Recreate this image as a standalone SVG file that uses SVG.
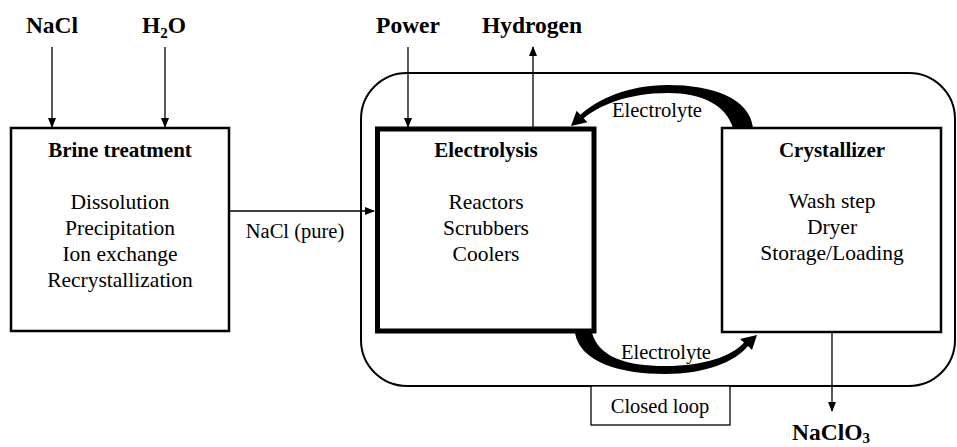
<svg xmlns="http://www.w3.org/2000/svg" width="957" height="447" viewBox="0 0 957 447" font-family="'Liberation Serif', 'Times New Roman', 'DejaVu Serif', serif">
<defs>
<marker id="ah" markerWidth="10" markerHeight="10" refX="9" refY="5" orient="auto" markerUnits="userSpaceOnUse">
<path d="M0,1 L10,5 L0,9 Z" fill="#000"/>
</marker>
<style>
text{font-family:'Liberation Serif','Times New Roman','DejaVu Serif',serif;fill:#000;}
.lbl{font-size:23.5px;font-weight:bold;text-anchor:middle;}
.ttl{font-size:21px;font-weight:bold;text-anchor:middle;}
.body{font-size:21.5px;text-anchor:middle;}
.small{font-size:20.5px;text-anchor:middle;}
.box{fill:#fff;stroke:#000;stroke-width:2.5;}
.thin{fill:none;stroke:#000;stroke-width:1.3;}
.arr{fill:#000;stroke:none;}
</style>
</defs>
<rect width="957" height="447" fill="#fff"/>
<g id="container">
<rect x="361" y="73" width="594" height="313" rx="46" ry="46" fill="none" stroke="#000" stroke-width="2"/>
</g>
<g id="closed-loop">
<rect x="591" y="386" width="139" height="39" fill="#fff" stroke="#000" stroke-width="1.3"/>
<text class="small" x="660" y="413">Closed loop</text>
</g>
<g id="brine">
<rect class="box" x="11" y="128" width="218" height="203"/>
<text class="ttl" x="120" y="157">Brine treatment</text>
<text class="body" x="120" y="209">Dissolution</text>
<text class="body" x="120" y="235">Precipitation</text>
<text class="body" x="120" y="261">Ion exchange</text>
<text class="body" x="120" y="287">Recrystallization</text>
</g>
<g id="electrolysis">
<rect x="377.5" y="129" width="216.5" height="202" fill="#fff" stroke="#000" stroke-width="5"/>
<text class="ttl" x="486" y="157">Electrolysis</text>
<text class="body" x="486" y="209">Reactors</text>
<text class="body" x="486" y="235">Scrubbers</text>
<text class="body" x="486" y="261">Coolers</text>
</g>
<g id="crystallizer">
<rect class="box" x="722" y="128" width="219" height="204"/>
<text class="ttl" x="832" y="157">Crystallizer</text>
<text class="body" x="832" y="208">Wash step</text>
<text class="body" x="832" y="234">Dryer</text>
<text class="body" x="832" y="260">Storage/Loading</text>
</g>
<g id="labels">
<text class="lbl" x="52" y="33">NaCl</text>
<text class="lbl" x="164" y="33">H<tspan font-size="15" dy="5">2</tspan><tspan dy="-5">O</tspan></text>
<text class="lbl" x="408" y="33">Power</text>
<text class="lbl" x="532" y="33">Hydrogen</text>
<text class="lbl" x="831" y="440">NaClO<tspan font-size="15" dy="3">3</tspan></text>
<text class="small" x="295" y="238">NaCl (pure)</text>
<text class="small" x="657" y="117">Electrolyte</text>
<text class="small" x="666" y="359">Electrolyte</text>
</g>
<g id="connectors">
<line class="thin" x1="52" y1="47" x2="52" y2="127" marker-end="url(#ah)"/>
<line class="thin" x1="165" y1="47" x2="165" y2="127" marker-end="url(#ah)"/>
<line class="thin" x1="408" y1="47" x2="408" y2="127" marker-end="url(#ah)"/>
<line class="thin" x1="533" y1="127" x2="533" y2="47" marker-end="url(#ah)"/>
<line class="thin" x1="229" y1="211" x2="374" y2="211" marker-end="url(#ah)"/>
<line class="thin" x1="832" y1="332" x2="832" y2="411" marker-end="url(#ah)"/>
<path class="arr" d="M 753,128 C 750,98 712,85 668,85 C 627,85 597,100 580.3,114.7 L 576.6,110.7 L 571,126 L 587.4,122.3 L 583.7,118.3 C 598,106 627,93 668,93 C 702,93 726,105 733,128 Z"/>
<path class="arr" d="M 575,333 C 580,362 620,374 665,374 C 705,374 735,362 748,346 L 752,350 L 757,335 L 740,339 L 744,342.5 C 732,356 705,366 665,366 C 626,366 599,357 592,333 Z"/>
</g>
</svg>
